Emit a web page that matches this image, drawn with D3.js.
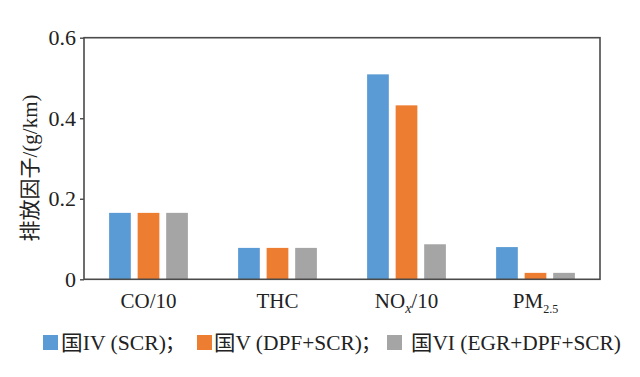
<!DOCTYPE html>
<html><head><meta charset="utf-8">
<script src="https://cdn.jsdelivr.net/npm/d3@7"></script>
<style>
body{margin:0;background:#fff;}
text{font-family:"Liberation Serif","Times New Roman","Noto Sans CJK SC",serif;fill:#222;}
</style></head>
<body><svg id="c" width="640" height="377"></svg>
<script>
const categories = ["CO/10","THC","NOx/10","PM2.5"];
const seriesNames = ["国IV (SCR)","国V (DPF+SCR)","国VI (EGR+DPF+SCR)"];
const guoIV = [0.165, 0.078, 0.509, 0.080];
const guoV  = [0.165, 0.078, 0.432, 0.016];
const guoVI = [0.165, 0.078, 0.087, 0.016];
const yTicks = [0, 0.2, 0.4, 0.6];
const yTickLabels = ["0","0.2","0.4","0.6"];
const colors = ["#5B9BD5","#ED7D31","#A5A5A5"];

const series = [guoIV, guoV, guoVI];
const svg = d3.select("#c");
const L=84, R=600, T=37.7, B=279.3;

const x0 = d3.scaleBand().domain(categories).range([L,R]).paddingInner(0).paddingOuter(0);
const x1 = d3.scaleBand().domain([0,1,2]).range([0,x0.bandwidth()]).paddingInner(0.239).paddingOuter(0.88);
const y = d3.scaleLinear().domain([0,0.6]).range([B,T]);

// bars
categories.forEach((c,ci)=>{
  series.forEach((s,si)=>{
    svg.append("rect")
      .attr("x", x0(c)+x1(si))
      .attr("width", x1.bandwidth())
      .attr("y", y(s[ci]))
      .attr("height", B - y(s[ci]))
      .attr("fill", colors[si]);
  });
});

// frame
svg.append("rect").attr("x",L).attr("y",T).attr("width",R-L).attr("height",B-T)
  .attr("fill","none").attr("stroke","#4a4a4a").attr("stroke-width",1.6);

// y axis
const yAxis = d3.axisLeft(y).tickValues(yTicks).tickSize(4).tickPadding(4)
  .tickFormat((d,i)=>yTickLabels[i]);
const ga = svg.append("g").attr("transform",`translate(${L},0)`).call(yAxis);
ga.select(".domain").remove();
ga.selectAll("line").attr("stroke","#4a4a4a").attr("stroke-width",1.4);
ga.selectAll("text").style("font-size","22px").attr("fill","#222")
  .style("font-family","'Liberation Serif',serif");

// y label
svg.append("text").attr("transform","translate(37,168) rotate(-90)")
  .attr("text-anchor","middle").style("font-size","21px")
  .text("排放因子/(g/km)");

// category labels
const labY = 308;
categories.forEach(c=>{
  const cx = x0(c)+x0.bandwidth()/2;
  const t = svg.append("text").attr("x",cx).attr("y",labY).attr("text-anchor","middle").style("font-size","21px");
  if(c==="NOx/10"){
    t.append("tspan").text("NO");
    t.append("tspan").text("x").style("font-style","italic").style("font-size","14px").attr("dy",5);
    t.append("tspan").text("/10").attr("dy",-5);
  } else if(c==="PM2.5"){
    t.append("tspan").text("PM");
    t.append("tspan").text("2.5").style("font-size","12px").attr("dy",5);
  } else t.text(c);
});

// legend
const sqX = [43, 197, 387];
const txX = [61, 214, 411];
const txLen = [105, 148, 210];
const semiX = [165, 361];
seriesNames.forEach((n,i)=>{
  svg.append("rect").attr("x",sqX[i]).attr("y",335).attr("width",15).attr("height",15).attr("fill",colors[i]);
  svg.append("text").attr("x",txX[i]).attr("y",350).style("font-size","21px")
    .attr("textLength",txLen[i]).attr("lengthAdjust","spacingAndGlyphs").text(n);
  if(i<2) svg.append("text").attr("x",semiX[i]).attr("y",350).style("font-size","20px").text("；");
});
</script></body></html>
